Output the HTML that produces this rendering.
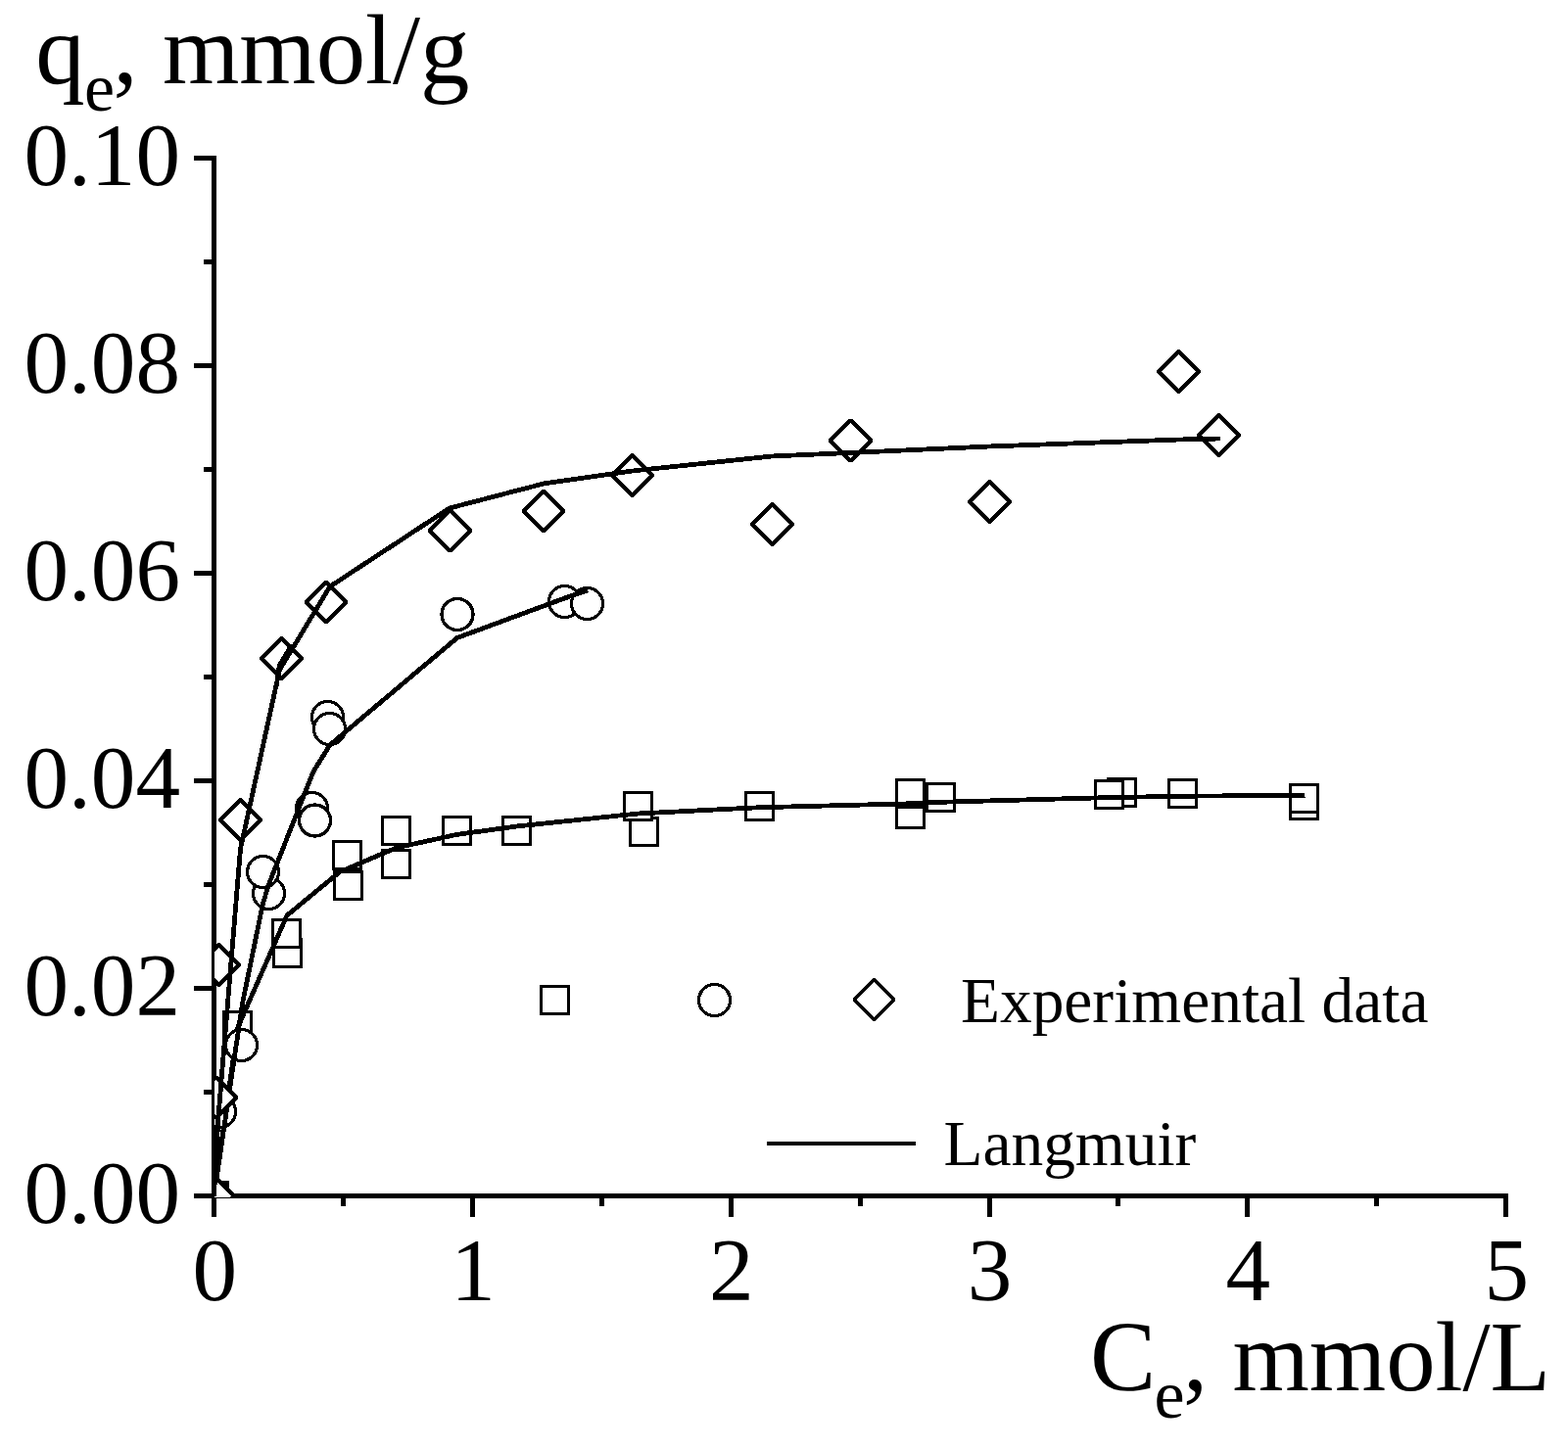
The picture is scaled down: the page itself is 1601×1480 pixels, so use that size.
<!DOCTYPE html>
<html lang="en"><head><meta charset="utf-8"><title>Langmuir adsorption isotherms</title>
<style>
html,body{margin:0;padding:0;background:#fff;}
body{width:1601px;height:1480px;overflow:hidden;}
svg{display:block;}
text{font-family:"Liberation Serif","DejaVu Serif",serif;fill:#000;}
.tick{font-size:91.2px;}
.title{font-size:100.8px;}
.sub{font-size:70px;}
.leg{font-size:65.4px;}
.mk{fill:#fff;stroke:#000;}
.s{stroke-width:3;stroke-linejoin:miter;}
.c{stroke-width:3.3;}
.d{stroke-width:4.3;stroke-linejoin:bevel;}
.cv{fill:none;stroke:#000;stroke-width:4.8;stroke-linejoin:round;stroke-linecap:butt;}
.ax{fill:#000;}
</style></head><body>
<svg width="1601" height="1480" viewBox="0 0 1601 1480">
<rect width="1601" height="1480" fill="#fff"/>
<defs><clipPath id="plot"><rect x="219" y="100" width="1400" height="1123"/></clipPath></defs>

<g class="ax" shape-rendering="crispEdges">
<rect x="216" y="159" width="5" height="1084"/>
<rect x="198" y="1219" width="1342" height="5"/>
<rect x="198" y="159" width="20" height="5"/>
<rect x="208" y="265" width="10" height="5"/>
<rect x="198" y="371" width="20" height="5"/>
<rect x="208" y="477" width="10" height="5"/>
<rect x="198" y="583" width="20" height="5"/>
<rect x="208" y="689" width="10" height="5"/>
<rect x="198" y="795" width="20" height="5"/>
<rect x="208" y="901" width="10" height="5"/>
<rect x="198" y="1007" width="20" height="5"/>
<rect x="208" y="1113" width="10" height="5"/>
<rect x="198" y="1219" width="20" height="5"/>
<rect x="216" y="1222" width="5" height="21"/>
<rect x="348" y="1222" width="5" height="10"/>
<rect x="480" y="1222" width="5" height="21"/>
<rect x="612" y="1222" width="5" height="10"/>
<rect x="744" y="1222" width="5" height="21"/>
<rect x="876" y="1222" width="5" height="10"/>
<rect x="1008" y="1222" width="5" height="21"/>
<rect x="1139" y="1222" width="5" height="10"/>
<rect x="1271" y="1222" width="5" height="21"/>
<rect x="1403" y="1222" width="5" height="10"/>
<rect x="1535" y="1222" width="5" height="21"/>
</g>
<g clip-path="url(#plot)" shape-rendering="crispEdges">
<g id="squares"><g class="mk">
<rect class="s" x="204.5" y="1207.5" width="28" height="28"/>
<rect class="s" x="228.5" y="1033.5" width="28" height="28"/>
<rect class="s" x="279.5" y="959.5" width="28" height="28"/>
<rect class="s" x="278.5" y="939.5" width="28" height="28"/>
<rect class="s" x="341.5" y="890.5" width="28" height="28"/>
<rect class="s" x="340.5" y="859.5" width="28" height="28"/>
<rect class="s" x="390.5" y="868.5" width="28" height="28"/>
<rect class="s" x="390.5" y="834.5" width="28" height="28"/>
<rect class="s" x="452.5" y="834.5" width="28" height="28"/>
<rect class="s" x="513.5" y="834.5" width="28" height="28"/>
<rect class="s" x="643.5" y="835.5" width="28" height="28"/>
<rect class="s" x="637.5" y="809.5" width="28" height="28"/>
<rect class="s" x="761" y="809.5" width="28" height="28"/>
<rect class="s" x="915.5" y="817.5" width="28" height="28"/>
<rect class="s" x="915.5" y="796.5" width="28" height="28"/>
<rect class="s" x="946.5" y="800" width="28" height="28"/>
<rect class="s" x="1131.5" y="795.5" width="28" height="28"/>
<rect class="s" x="1118.5" y="797.5" width="28" height="28"/>
<rect class="s" x="1193.5" y="796.5" width="28" height="28"/>
<rect class="s" x="1317" y="808.5" width="28" height="28"/>
<rect class="s" x="1317" y="801.5" width="28" height="28"/>
</g><g class="cv">
<polyline points="218.5,1221.5 242.5,1050 293,935 347,890.5 404.5,866 465.75,852.5 527.5,844 651.5,831 775,824.75 929.5,820.8 960,819.3 1132.5,814.6 1207.5,813.2 1332.5,812.3"/>
</g></g>
<g id="circles"><g class="mk">
<circle class="c" cx="218.5" cy="1221.5" r="16"/>
<circle class="c" cx="224.5" cy="1135.5" r="16"/>
<circle class="c" cx="246.5" cy="1067.5" r="16"/>
<circle class="c" cx="274.5" cy="912.5" r="16"/>
<circle class="c" cx="268.5" cy="890.5" r="16"/>
<circle class="c" cx="318.5" cy="825.5" r="16"/>
<circle class="c" cx="321.5" cy="838" r="16"/>
<circle class="c" cx="334.5" cy="732.5" r="16"/>
<circle class="c" cx="336.5" cy="744.5" r="16"/>
<circle class="c" cx="467" cy="627.5" r="16"/>
<circle class="c" cx="576.5" cy="614.5" r="16"/>
<circle class="c" cx="599.5" cy="616.5" r="16"/>
</g><g class="cv">
<polyline points="218.5,1221.5 247.5,1025 268,925 273.75,905 318.75,791 321.25,786 335,764 336.75,761 466.75,651.5 576.5,611 600,603"/>
</g></g>
<g id="diamonds"><g class="mk">
<path class="d" d="M199.7 1121L220.5 1100.2L241.3 1121L220.5 1141.8Z"/>
<path class="d" d="M202.7 985.5L223.5 964.7L244.3 985.5L223.5 1006.3Z"/>
<path class="d" d="M224.7 837.5L245.5 816.7L266.3 837.5L245.5 858.3Z"/>
<path class="d" d="M266.7 672.5L287.5 651.7L308.3 672.5L287.5 693.3Z"/>
<path class="d" d="M312.2 615L333 594.2L353.8 615L333 635.8Z"/>
<path class="d" d="M438.7 542L459.5 521.2L480.3 542L459.5 562.8Z"/>
<path class="d" d="M534.2 522L555 501.2L575.8 522L555 542.8Z"/>
<path class="d" d="M624.7 485.5L645.5 464.7L666.3 485.5L645.5 506.3Z"/>
<path class="d" d="M767.7 535.5L788.5 514.7L809.3 535.5L788.5 556.3Z"/>
<path class="d" d="M847.7 450L868.5 429.2L889.3 450L868.5 470.8Z"/>
<path class="d" d="M989.7 512.5L1010.5 491.7L1031.3 512.5L1010.5 533.3Z"/>
<path class="d" d="M1182.7 379.5L1203.5 358.7L1224.3 379.5L1203.5 400.3Z"/>
<path class="d" d="M1223.7 444.5L1244.5 423.7L1265.3 444.5L1244.5 465.3Z"/>
<path class="d" d="M197.7 1221.5L218.5 1200.7L239.3 1221.5L218.5 1242.3Z"/>
</g><g class="cv">
<polyline points="218.5,1221.5 219.5,1203 223,1140 245.5,867 285.5,684 337,599 459,519 555,494 645.75,481 788,466 868,462.5 1010,456 1204,449 1246,448"/>
<polyline points="282,702 285.2,680 298,658.5"/>
</g></g>
</g>
<text class="tick" x="184" y="188.8" text-anchor="end">0.10</text>
<text class="tick" x="184" y="400.8" text-anchor="end">0.08</text>
<text class="tick" x="184" y="612.8" text-anchor="end">0.06</text>
<text class="tick" x="184" y="824.8" text-anchor="end">0.04</text>
<text class="tick" x="184" y="1036.8" text-anchor="end">0.02</text>
<text class="tick" x="184" y="1248.8" text-anchor="end">0.00</text>
<text class="tick" x="219.2" y="1327.5" text-anchor="middle">0</text>
<text class="tick" x="483" y="1327.5" text-anchor="middle">1</text>
<text class="tick" x="746.8" y="1327.5" text-anchor="middle">2</text>
<text class="tick" x="1010.6" y="1327.5" text-anchor="middle">3</text>
<text class="tick" x="1274.4" y="1327.5" text-anchor="middle">4</text>
<text class="tick" x="1538.2" y="1327.5" text-anchor="middle">5</text>
<text class="title" y="85.2"><tspan x="36.2">q</tspan><tspan class="sub" x="86" y="113.3">e</tspan><tspan x="115.5" y="85.2">, mmol/g</tspan></text>
<text class="title" y="1420.3"><tspan x="1113">C</tspan><tspan class="sub" x="1178.5" y="1448.3">e</tspan><tspan x="1208" y="1420.3">, mmol/L</tspan></text>
<g class="mk" shape-rendering="crispEdges"><rect class="s" x="552.5" y="1007.5" width="28" height="28"/><circle class="c" cx="729.5" cy="1021.5" r="16"/><path class="d" style="stroke-width:3.7" d="M872.2 1021L892.5 1000.7L912.8 1021L892.5 1041.3Z"/></g>
<text class="leg" x="981" y="1044">Experimental data</text>
<rect class="ax" shape-rendering="crispEdges" x="783" y="1166" width="152" height="4"/>
<text class="leg" x="963.5" y="1190.3">Langmuir</text>
</svg></body></html>
